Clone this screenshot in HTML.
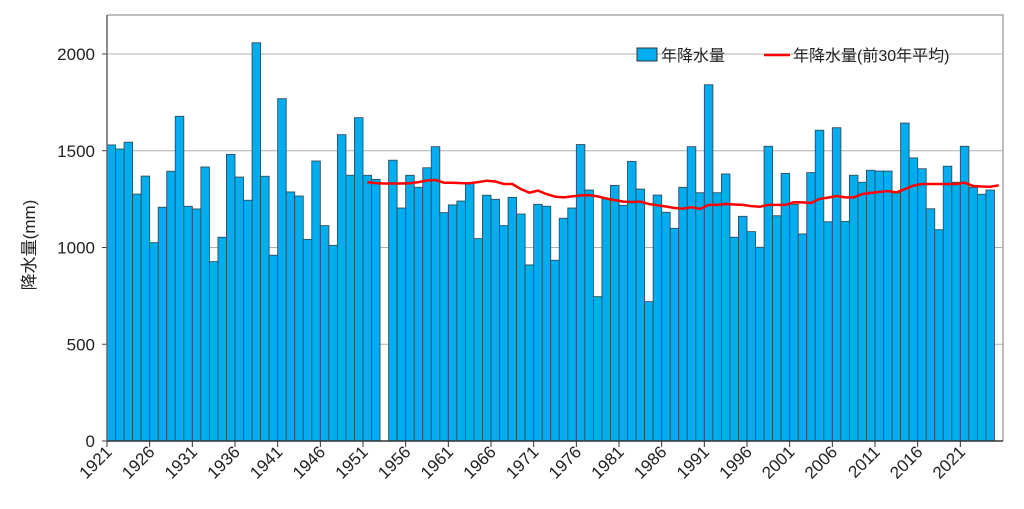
<!DOCTYPE html>
<html><head><meta charset="utf-8">
<style>
html,body{margin:0;padding:0;background:#fff;}
svg{display:block;font-family:"Liberation Sans","Noto Sans CJK JP",sans-serif;}
</style></head>
<body>
<svg id="chart" width="1024" height="509" viewBox="0 0 1024 509" xmlns="http://www.w3.org/2000/svg">
<g id="grid"></g>
<g id="bars"></g>
<path id="avgline" fill="none" stroke="#ff0000" stroke-width="2.5"/>
<g id="axes"></g>
<text transform="translate(35,245) rotate(-90)" text-anchor="middle" font-size="17" fill="#222">降水量(mm)</text>
<g>
<g>
<rect x="637" y="48" width="20" height="13" fill="#00aeef" stroke="#333" stroke-width="1"/>
<text x="661" y="61" font-size="16" fill="#222">年降水量</text>
</g>
<g>
<line x1="764" y1="55" x2="790" y2="55" stroke="#ff0000" stroke-width="2.5"/>
<text x="793" y="61" font-size="16" fill="#222">年降水量(前30年平均)</text>
</g>
</g>
</svg>
<script>
const years = [];
for (let y = 1921; y <= 2024; y++) years.push(y);
const rainfall = [1530,1509,1544,1276,1369,1025,1208,1394,1678,1213,1199,1416,927,1053,1481,1364,1244,2058,1368,960,
1769,1287,1266,1042,1447,1113,1011,1583,1373,1671,1373,1352,null,1451,1204,1373,1311,1412,1521,1180,
1220,1240,1332,1046,1270,1249,1113,1259,1173,910,1223,1213,934,1151,1204,1532,1297,746,1252,1321,
1218,1445,1302,720,1271,1182,1099,1311,1521,1283,1841,1283,1380,1053,1161,1082,1001,1523,1164,1383,
1223,1070,1387,1606,1133,1619,1135,1373,1337,1399,1395,1395,1283,1643,1463,1407,1200,1092,1420,1337,
1523,1311,1275,1297];
const avgStart = 1951;
const avg30 = [1338,1333,1331,1331,1331,1332,1338,1346,1349,1335,1335,1333,1332,1338,1345,1341,1328,1328,1302,1283,
1294,1276,1263,1259,1264,1269,1271,1264,1253,1245,1237,1235,1237,1225,1218,1212,1204,1201,1208,1199,
1220,1220,1225,1222,1220,1214,1211,1220,1220,1220,1234,1233,1230,1251,1258,1266,1259,1259,1276,1282,
1287,1292,1285,1302,1320,1328,1328,1328,1328,1328,1335,1318,1315,1314,1321];
const yTicks = [0,500,1000,1500,2000];
const xTickYears = [1921,1926,1931,1936,1941,1946,1951,1956,1961,1966,1971,1976,1981,1986,1991,1996,2001,2006,2011,2016,2021];

const NS = "http://www.w3.org/2000/svg";
const X0 = 107, X1 = 1003, Y0 = 441, YTOP = 15;
const firstYear = 1921, nSlots = 105;
const slot = (X1 - X0) / nSlots;
const xs = yr => X0 + (yr - firstYear) * slot;
const ys = v => Y0 - v * (387 / 2000);
function mk(tag, attrs, parent){const e=document.createElementNS(NS,tag);for(const k in attrs)e.setAttribute(k,attrs[k]);parent.appendChild(e);return e;}

const grid = document.getElementById('grid');
const axes = document.getElementById('axes');
yTicks.forEach(t=>{
  if(t>0){const l=mk('line',{x1:X0,x2:X1,y1:ys(t),y2:ys(t),stroke:'#b0b0b0','stroke-width':1},grid);
  
  }
  const tk=mk('line',{x1:X0-5,x2:X0,y1:ys(t),y2:ys(t),stroke:'#444'},axes);
  
  
  const tx=mk('text',{x:X0-12,y:ys(t)+6,'text-anchor':'end','font-size':17,fill:'#222'},axes);
  tx.textContent=t;
  
  
});
// frame
const fr=mk('path',{d:`M${X0},${YTOP}H${X1}V${Y0}`,fill:'none',stroke:'#aaa','stroke-width':1.5},axes);


const ya=mk('line',{x1:X0,x2:X0,y1:YTOP,y2:Y0,stroke:'#666','stroke-width':1.5},axes);


const xa=mk('line',{x1:X0,x2:X1,y1:Y0,y2:Y0,stroke:'#333','stroke-width':1.5},axes);



const bars=document.getElementById('bars');
years.forEach((yr,i)=>{
  const v=rainfall[i]; if(v==null) return;
  const r=mk('rect',{x:xs(yr),y:ys(v),width:slot,height:Y0-ys(v),fill:'#00aeef',stroke:'#2f4f5f','stroke-width':0.9},bars);
  
  
});

let d='';
avg30.forEach((v,i)=>{const x=xs(avgStart+i)+slot/2;d+=(i?'L':'M')+x.toFixed(1)+','+ys(v).toFixed(1);});
document.getElementById('avgline').setAttribute('d',d);

xTickYears.forEach(yr=>{
  const x=xs(yr);
  const tk=mk('line',{x1:x,x2:x,y1:Y0,y2:Y0+6,stroke:'#333'},axes);
  
  
  const tx=mk('text',{transform:`translate(${x+6},${Y0+12}) rotate(-45)`,'text-anchor':'end','font-size':17,fill:'#222'},axes);
  tx.textContent=yr;
  
  
});
</script>
</body></html>
